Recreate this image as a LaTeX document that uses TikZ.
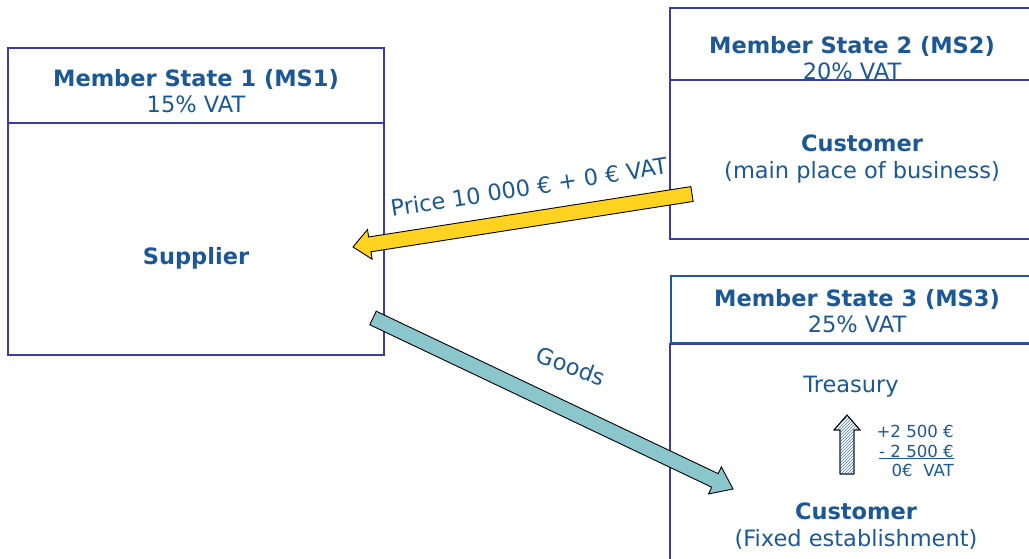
\documentclass[tikz,border=0pt]{standalone}
\usepackage{fontspec}
\setmainfont{DejaVu Sans}
\usetikzlibrary{calc,patterns}
\definecolor{txtblue}{RGB}{28,88,150}
\definecolor{boxblue}{RGB}{60,60,165}
\definecolor{hdblue}{RGB}{31,90,150}
\definecolor{gold}{RGB}{255,211,32}
\definecolor{teal}{RGB}{138,198,204}
\newcommand\blockarrow[6]{%
  \coordinate (H) at ($(#2)!#5!(#1)$);
  \draw[#6] ($(#1)!#3!90:(#2)$) -- ($(H)!#3!-90:(#1)$) -- ($(H)!#4!-90:(#1)$) -- (#2)
    -- ($(H)!#4!90:(#1)$) -- ($(H)!#3!90:(#1)$) -- ($(#1)!#3!-90:(#2)$) -- cycle;}
\tikzset{
  statebox/.style={draw=boxblue, line width=1.3pt},
  headbox/.style={draw=hdblue, line width=1.3pt},
  lbl/.style={text=txtblue, font=\fontsize{22.5}{26.5}\selectfont, align=center, inner sep=0pt},
  small/.style={text=txtblue, font=\fontsize{16.6}{19.5}\selectfont, align=right, inner sep=0pt},
  arr/.style={draw=black, line width=0.9pt, line join=miter}
}
\begin{document}
\begin{tikzpicture}[x=1pt,y=-1pt]
\useasboundingbox (0,0) rectangle (1029,559);
% MS1
\draw[statebox] (8,48) rectangle (384,355);
\draw[statebox] (8,123) -- (384,123);
\node[lbl] (ms1) at (196,91) {\textbf{Member State 1 (MS1)}\\15\% VAT};
\node[lbl] (sup) at (196,258) {\textbf{Supplier}};
% MS2
\draw[statebox] (1032,8) -- (670,8) -- (670,239) -- (1032,239);
\draw[statebox] (670,80) -- (1032,80);
\node[lbl] (ms2) at (852,58) {\textbf{Member State 2 (MS2)}\\20\% VAT};
\node[lbl] (cus2) at (862,159) {\textbf{Customer}\\(main place of business)};
% MS3
\draw[statebox] (670,562) -- (670,344) -- (1032,344);
\draw[headbox] (1032,276) -- (671,276) -- (671,343) -- (1032,343);
\node[lbl] (ms3) at (857,311) {\textbf{Member State 3 (MS3)}\\25\% VAT};
\node[lbl] (tre) at (851,387) {Treasury};
\node[lbl] (cus3) at (856,526) {\textbf{Customer}\\(Fixed establishment)};
\node[small, anchor=north east] (num) at (954,425) {+2 500 €\\\underline{- 2 500 €}\\0€\ \ VAT};
% arrows
\coordinate (ya) at (692,194);
\coordinate (yb) at (353,247);
\blockarrow{ya}{yb}{7.5pt}{15pt}{17pt}{arr, fill=gold}
\coordinate (ta) at (373,318);
\coordinate (tb) at (733,489);
\blockarrow{ta}{tb}{7.5pt}{15pt}{20pt}{arr, fill=teal}
\coordinate (ha) at (847,474);
\coordinate (hb) at (847,415);
\blockarrow{ha}{hb}{7pt}{13pt}{15pt}{arr, fill=white, line width=0.8pt}
\fill[pattern=north east lines, pattern color=txtblue!80] (840,474) rectangle (854,430);
\fill[pattern=north east lines, pattern color=txtblue!80] (835,430) -- (847,416) -- (859,430) -- cycle;
\blockarrow{ha}{hb}{7pt}{13pt}{15pt}{arr, line width=0.8pt}
\node[lbl, rotate=8.9] (price) at (529,187) {Price 10 000 € + 0 € VAT};
\node[lbl, rotate=-20] (goods) at (571,366) {Goods};
\end{tikzpicture}
\end{document}
